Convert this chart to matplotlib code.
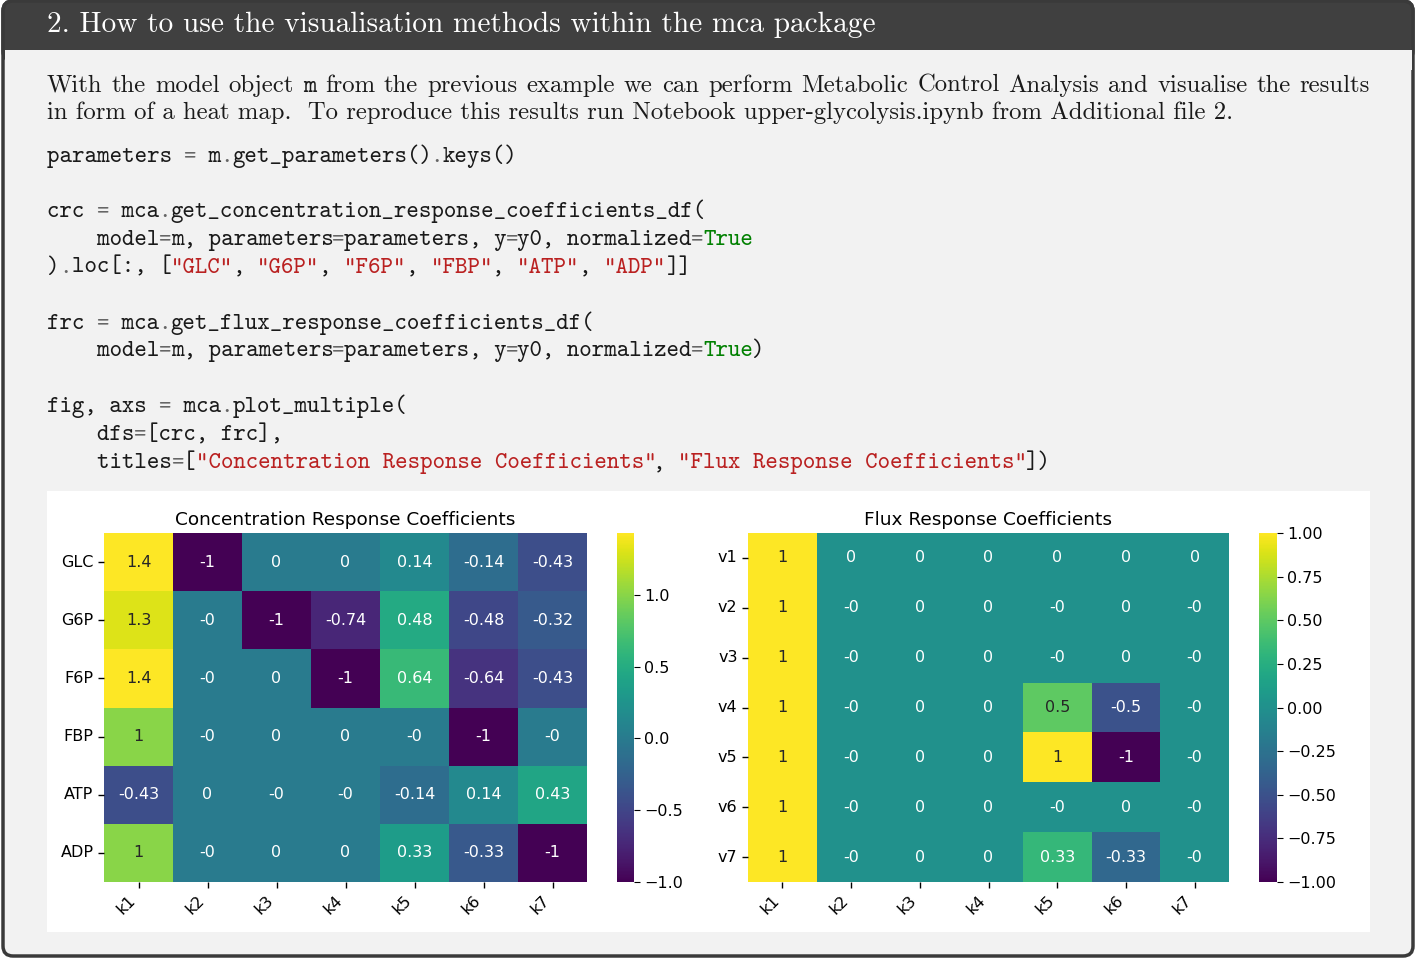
import numpy as np
import pandas as pd
import matplotlib.pyplot as plt
import seaborn as sns
from matplotlib.patches import FancyBboxPatch, Rectangle

W, H = 1416, 961

# ---- data -----------------------------------------------------------
params = ["k1", "k2", "k3", "k4", "k5", "k6", "k7"]
crc_rows = ["GLC", "G6P", "F6P", "FBP", "ATP", "ADP"]
frc_rows = ["v1", "v2", "v3", "v4", "v5", "v6", "v7"]

crc_vals = [
    [1.43, -1.0, 0.0, 0.0, 0.14, -0.14, -0.43],
    [1.30, -0.0, -1.0, -0.74, 0.48, -0.48, -0.32],
    [1.43, -0.0, 0.0, -1.0, 0.64, -0.64, -0.43],
    [1.00, -0.0, 0.0, 0.0, -0.0, -1.0, -0.0],
    [-0.43, 0.0, -0.0, -0.0, -0.14, 0.14, 0.43],
    [1.00, -0.0, 0.0, 0.0, 0.33, -0.33, -1.0],
]
frc_vals = [
    [1.0, 0.0, 0.0, 0.0, 0.0, 0.0, 0.0],
    [1.0, -0.0, 0.0, 0.0, -0.0, 0.0, -0.0],
    [1.0, -0.0, 0.0, 0.0, -0.0, 0.0, -0.0],
    [1.0, -0.0, 0.0, 0.0, 0.5, -0.5, -0.0],
    [1.0, -0.0, 0.0, 0.0, 1.0, -1.0, -0.0],
    [1.0, -0.0, 0.0, 0.0, -0.0, 0.0, -0.0],
    [1.0, -0.0, 0.0, 0.0, 0.33, -0.33, -0.0],
]
titles = ["Concentration Response Coefficients", "Flux Response Coefficients"]

header = "2. How to use the visualisation methods within the mca package"
line1_words = ["With", "the", "model", "object", "m", "from", "the", "previous", "example",
               "we", "can", "perform", "Metabolic", "Control", "Analysis", "and",
               "visualise", "the", "results"]
line2 = ("in form of a heat map.  To reproduce this results run Notebook "
         "upper-glycolysis.ipynb from Additional file 2.")
code_lines = [
    (156, 'parameters = m.get_parameters().keys()'),
    (211, 'crc = mca.get_concentration_response_coefficients_df('),
    (239, '    model=m, parameters=parameters, y=y0, normalized=True'),
    (267, ').loc[:, ["GLC", "G6P", "F6P", "FBP", "ATP", "ADP"]]'),
    (323, 'frc = mca.get_flux_response_coefficients_df('),
    (350, '    model=m, parameters=parameters, y=y0, normalized=True)'),
    (406, 'fig, axs = mca.plot_multiple('),
    (434, '    dfs=[crc, frc],'),
    (462, '    titles=["Concentration Response Coefficients", "Flux Response Coefficients"])'),
]

# ---- page ------------------------------------------------------------
fig = plt.figure(figsize=(W / 100, H / 100), dpi=100)
fig.patch.set_facecolor('white')
bg = fig.add_axes([0, 0, 1, 1])
bg.set_xlim(0, W)
bg.set_ylim(H, 0)
bg.axis('off')

bg.add_patch(FancyBboxPatch((3, 1), 1410, 955, boxstyle='round,pad=0,rounding_size=10',
                            fc='#f2f2f2', ec='#3a3a3a', lw=2.5))
bg.add_patch(FancyBboxPatch((3, 1), 1410, 60, boxstyle='round,pad=0,rounding_size=10',
                            fc='#404040', ec='#3a3a3a', lw=2.5))
bg.add_patch(Rectangle((4.5, 50), 1407, 20, fc='#f2f2f2', ec='none'))
bg.add_patch(Rectangle((47, 491), 1323, 441, fc='white', ec='none'))

bg.text(47, 25, header, color='white', fontsize=21.1, family='cmr10', va='center')

renderer = fig.canvas.get_renderer()


def width_px(t):
    bb = t.get_window_extent(renderer=renderer)
    return bb.width


# justified first line
tx = []
for w in line1_words:
    fam = 'cmtt10' if w == 'm' else 'cmr10'
    tx.append(bg.text(0, 92, w, fontsize=17.8, family=fam, color='#1a1a1a', va='baseline'))
widths = [width_px(t) for t in tx]
gap = (1370 - 47 - sum(widths)) / (len(tx) - 1)
x = 47
for t, wd in zip(tx, widths):
    t.set_x(x)
    x += wd + gap
bg.text(47, 119, line2, fontsize=17.8, family='cmr10', color='#1a1a1a', va='baseline')

# code block
probe = bg.text(0, 0, '0' * 40, fontsize=17.1, family='cmtt10')
cw = width_px(probe) / 40
probe.remove()


def colours(line):
    cols = []
    in_str = False
    i = 0
    while i < len(line):
        c = line[i]
        if c == '"':
            cols.append('#ba2121')
            in_str = not in_str
        elif in_str:
            cols.append('#ba2121')
        elif line.startswith('True', i):
            cols.extend(['#008000'] * 4)
            i += 4
            continue
        elif c in '=.':
            cols.append('#666666')
        else:
            cols.append('#1a1a1a')
        i += 1
    return cols


for y, line in code_lines:
    cols = colours(line)
    start = 0
    for j in range(1, len(line) + 1):
        if j == len(line) or cols[j] != cols[start]:
            seg = line[start:j]
            if seg.strip():
                bg.text(47 + start * cw, y + 6, seg, fontsize=17.1, family='cmtt10',
                        color=cols[start], va='baseline')
            start = j

# ---- heatmaps --------------------------------------------------------
crc = pd.DataFrame(crc_vals, index=crc_rows, columns=params)
frc = pd.DataFrame(frc_vals, index=frc_rows, columns=params)


def fx(px):
    return px / W


def fy(top, bottom):
    return 1 - bottom / H, (bottom - top) / H


b, h = fy(533, 882)
ax1 = fig.add_axes([fx(104), b, fx(483), h])
cax1 = fig.add_axes([fx(617), b, fx(17), h])
ax2 = fig.add_axes([fx(748), b, fx(481), h])
cax2 = fig.add_axes([fx(1259), b, fx(18), h])

for ax, cax, df, title in [(ax1, cax1, crc, titles[0]), (ax2, cax2, frc, titles[1])]:
    sns.heatmap(df, ax=ax, cbar_ax=cax, cmap='viridis', annot=True,
                annot_kws={'size': 11.5})
    ax.set_title(title, fontsize=13.3, pad=6)
    ax.set_xticklabels(ax.get_xticklabels(), rotation=45, ha='right', fontsize=11.5)
    ax.set_yticklabels(ax.get_yticklabels(), rotation=0, fontsize=11.5)
    ax.tick_params(length=4, width=1)
    cax.tick_params(labelsize=11.5, length=4)

plt.savefig('out.png', dpi=100)
